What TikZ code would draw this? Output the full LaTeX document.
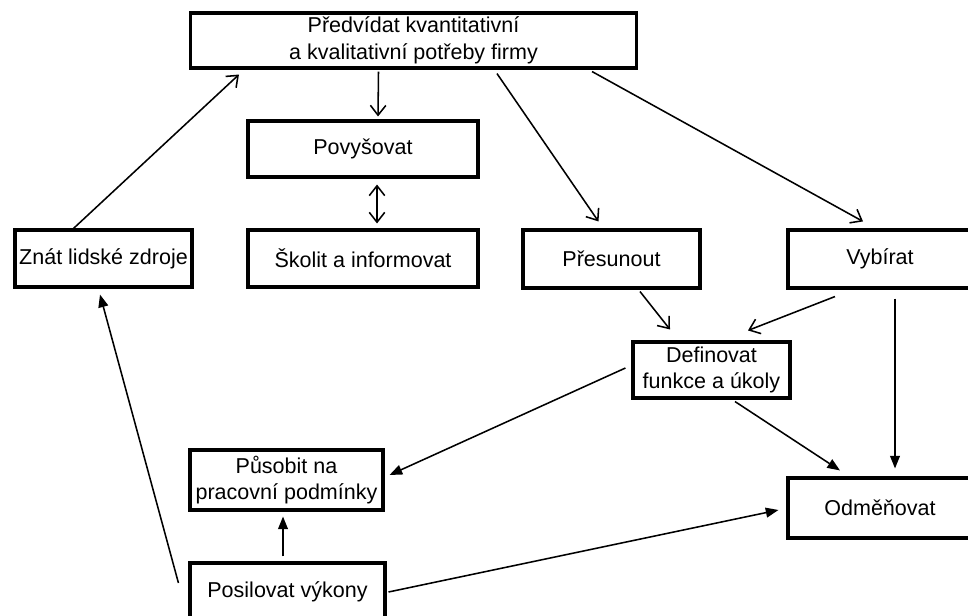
\documentclass[tikz,border=0pt]{standalone}
\usepackage{fontspec}
\setmainfont{Liberation Sans}
\usepackage{tikz}
\usetikzlibrary{calc,arrows.meta}

\begin{document}
\begin{tikzpicture}[x=0.025cm,y=-0.025cm,
	box/.style={draw,line width=2.2pt,inner sep=0pt,align=center,
		font=\fontsize{15.3}{19}\selectfont},
	arr/.style={line width=1.1pt,-{Straight Barb[length=7pt,width=11pt]}},
	farr/.style={line width=1.1pt,-{Triangle[length=9pt,width=7pt]}}
	]
	\useasboundingbox (0,0) rectangle (968,616);
	
	\node[box,minimum width=446*0.025cm,minimum height=55*0.025cm] (top) at (413.5,40.5)
	{Předvídat kvantitativní\\a kvalitativní potřeby firmy};
	\node[box,minimum width=230*0.025cm,minimum height=56*0.025cm] (pov) at (363,149) {Povyšovat};
	\node[box,minimum width=230*0.025cm,minimum height=57*0.025cm] (skol) at (363,258.5) {Školit a informovat};
	\node[box,minimum width=177*0.025cm,minimum height=57*0.025cm] (znat) at (103.5,258.5) {Znát lidské zdroje};
	\node[box,minimum width=177*0.025cm,minimum height=58*0.025cm] (pres) at (611.5,259) {Přesunout};
	\node[box,minimum width=184*0.025cm,minimum height=58*0.025cm] (vyb) at (880,259) {Vybírat};
	\node[box,minimum width=157*0.025cm,minimum height=56*0.025cm] (def) at (711.5,370)
	{Definovat\\funkce a úkoly};
	\node[box,minimum width=193*0.025cm,minimum height=60*0.025cm] (pus) at (286.5,480)
	{Působit na\\pracovní podmínky};
	\node[box,minimum width=195*0.025cm,minimum height=58*0.025cm] (pos) at (287.5,592) {Posilovat výkony};
	\node[box,minimum width=184*0.025cm,minimum height=60*0.025cm] (odm) at (880,508) {Odměňovat};
	
	% open arrows
	\draw[arr] ($(znat.north)+(-30,0)$) -- ($(top.south west)+(50,5)$);
	\draw[arr] ($(top.south)+(-35,2)$) -- ($(pov.north)+(15,-3)$);
	\draw[arr,{Straight Barb[length=7pt,width=11pt]}-{Straight Barb[length=7pt,width=11pt]}]
	($(pov.south)+(14,6)$) -- ($(skol.north)+(14,-5)$);
	\draw[arr] ($(top.south west)+(308,4)$) -- ($(pres.north)+(-13,-7)$);
	\draw[arr] ($(top.south east)+(-46,2)$) -- ($(vyb.north)+(-17,-7)$);
	\draw[arr] ($(pres.south)+(28.5,2)$) -- ($(def.north)+(-41.5,-11)$);
	\draw[arr] ($(vyb.south)+(-45,7)$) -- ($(def.north)+(36.5,-10)$);
	
	% filled arrows
	\draw[farr] ($(vyb.south)+(15,9)$) -- ($(odm.north)+(15,-8)$);
	\draw[farr] ($(def.west)+(-6,-2)$) -- ($(pus.east)+(5,-5)$);
	\draw[farr] ($(def.south)+(23.5,2)$) -- ($(odm.north)+(-40,-6)$);
	\draw[farr] ($(pos.north)+(-4.5,-5)$) -- ($(pus.south)+(-3.5,5)$);
	\draw[farr] ($(pos.west)+(-10,-9)$) -- ($(znat.south)+(-3.5,6)$);
	\draw[farr] ($(pos.east)+(2,0)$) -- ($(odm.west)+(-8,2)$);
	
\end{tikzpicture}
\end{document}
